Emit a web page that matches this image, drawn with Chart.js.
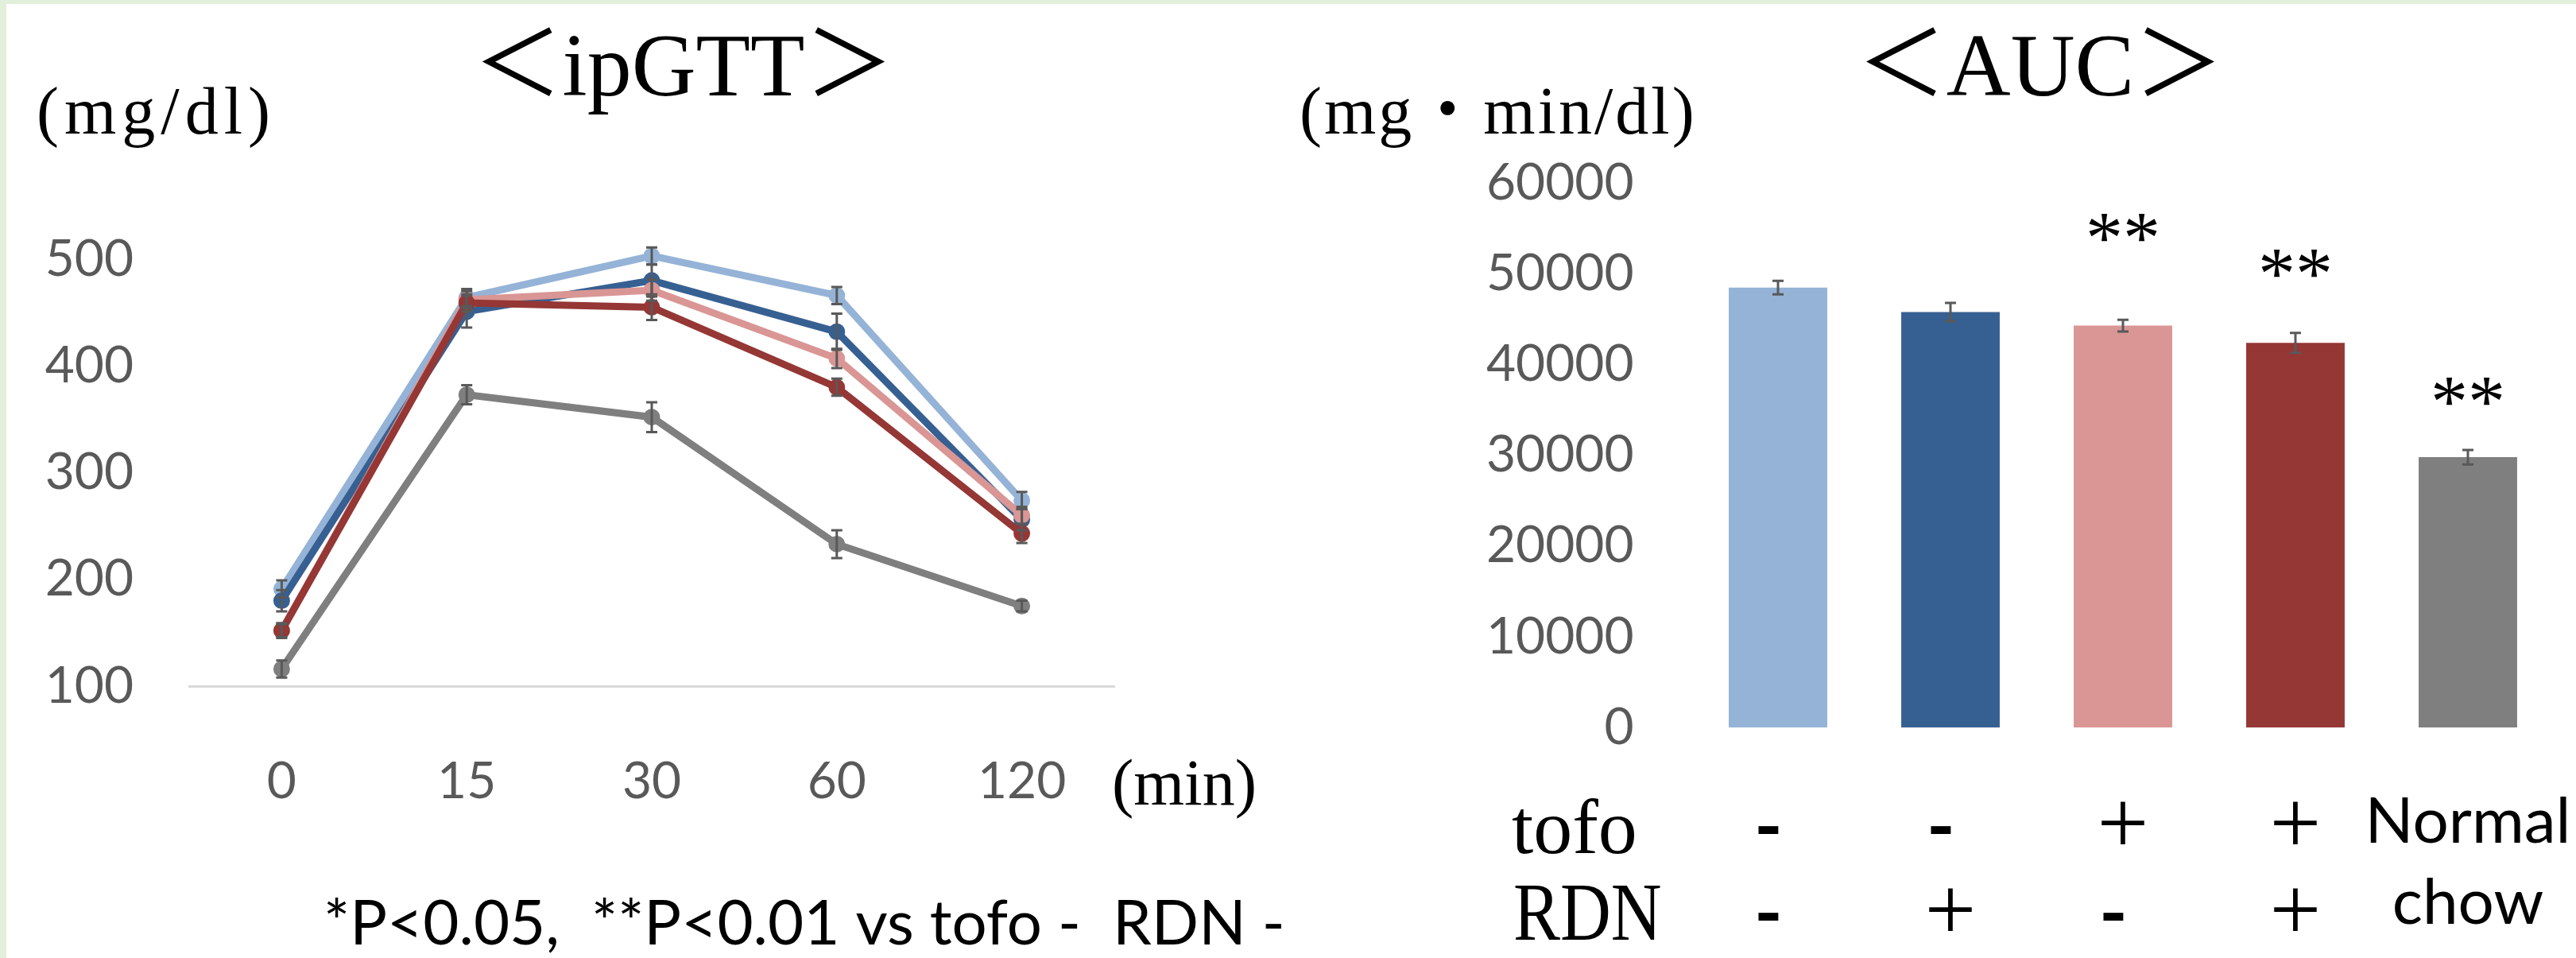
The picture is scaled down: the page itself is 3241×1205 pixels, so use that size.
<!DOCTYPE html>
<html>
<head>
<meta charset="utf-8">
<script src="https://cdn.jsdelivr.net/npm/chart.js@4.4.1/dist/chart.umd.min.js"></script>
<style>
  html, body { margin: 0; padding: 0; }
  body { width: 3241px; height: 1205px; background: #e2efda; position: relative; overflow: hidden; }
  #panel { position: absolute; left: 8px; top: 5px; right: 0; bottom: 0; background: #fff; }
  .box { position: absolute; top: 0; height: 1205px; }
  #lineBox { left: 0; width: 1700px; }
  #barBox { left: 1620px; width: 1621px; }
</style>
</head>
<body>
<div id="panel"></div>
<div class="box" id="lineBox"><canvas id="gttChart"></canvas></div>
<div class="box" id="barBox"><canvas id="aucChart"></canvas></div>
<script>
// ipGTT, blood glucose (mg/dl) at each time point
const timeLabels = ["0", "15", "30", "60", "120"];
const gttLightBlue = [191, 464, 503, 466, 274];
const gttDarkBlue = [180, 451, 480, 432, 256];
const gttPink = [152, 462, 471, 407, 260];
const gttDarkRed = [152, 459, 455, 380, 243];
const gttGray = [116, 373, 352, 233, 175];
const errLightBlue = [8, 8, 8, 8, 8];
const errDarkBlue = [10, 15, 15, 17, 10];
const errPink = [6, 8, 10, 9, 8];
const errDarkRed = [7, 8, 12, 8, 9];
const errGray = [8, 9, 14, 13, 5];

// AUC (mg·min/dl)
const groupNames = ["tofo- RDN-", "tofo- RDN+", "tofo+ RDN-", "tofo+ RDN+", "Normal chow"];
const aucValues = [48500, 45800, 44300, 42400, 29800];
const aucErrors = [750, 1000, 650, 1100, 800];
const aucSignif = ["", "", "**", "**", "**"];
const aucSignifAt = [null, null, 55200, 51300, 37200];
const tofoRow = ["-", "-", "+", "+"];
const rdnRow = ["-", "+", "-", "+"];

const colors = ["#95b3d7", "#376092", "#d99694", "#953735", "#7f7f7f"];
const tickGray = "#595959";
const serif = '"Liberation Serif", "Noto Sans CJK JP"';

const errorBars = {
  id: "errorBars",
  afterDatasetsDraw(chart) {
    const ctx = chart.ctx;
    const y = chart.scales.y;
    ctx.save();
    ctx.strokeStyle = tickGray;
    ctx.lineWidth = 3;
    chart.data.datasets.forEach((ds, i) => {
      const meta = chart.getDatasetMeta(i);
      (ds.errors || []).forEach((e, j) => {
        const el = meta.data[j];
        const top = y.getPixelForValue(ds.data[j] + e);
        const bot = y.getPixelForValue(ds.data[j] - e);
        ctx.beginPath();
        ctx.moveTo(el.x, top); ctx.lineTo(el.x, bot);
        ctx.moveTo(el.x - 7, top); ctx.lineTo(el.x + 7, top);
        ctx.moveTo(el.x - 7, bot); ctx.lineTo(el.x + 7, bot);
        ctx.stroke();
      });
    });
    ctx.restore();
  }
};

const gttText = {
  id: "gttText",
  afterDraw(chart) {
    const ctx = chart.ctx;
    ctx.save();
    ctx.fillStyle = "#000";
    ctx.textBaseline = "alphabetic";
    ctx.textAlign = "center";
    ctx.font = "112px " + serif;
    ctx.fillText("＜ipGTT＞", 860, 120);
    ctx.textAlign = "left";
    ctx.font = "84px " + serif;
    ctx.letterSpacing = "7px";
    ctx.fillText("(mg/dl)", 46, 168);
    ctx.letterSpacing = "0px";
    ctx.font = "82px " + serif;
    ctx.fillText("(min)", 1399, 1012);
    ctx.font = "78px Lato";
    ctx.fillText("*P<0.05,  **P<0.01 vs tofo -  RDN -", 407, 1188);
    ctx.restore();
  }
};

const aucText = {
  id: "aucText",
  afterDraw(chart) {
    const ctx = chart.ctx;
    const x = chart.scales.x;
    const y = chart.scales.y;
    ctx.save();
    ctx.fillStyle = "#000";
    ctx.textBaseline = "alphabetic";
    ctx.textAlign = "center";
    ctx.font = "112px " + serif;
    ctx.fillText("＜AUC＞", 947, 120);
    ctx.textAlign = "left";
    ctx.font = "84px " + serif;
    ctx.letterSpacing = "3px";
    ctx.fillText("(mg・min/dl)", 15, 168);
    ctx.letterSpacing = "0px";

    // significance marks
    ctx.textAlign = "center";
    ctx.font = "94px " + serif;
    aucSignif.forEach((s, i) => {
      if (s) ctx.fillText(s, x.getPixelForValue(i), y.getPixelForValue(aucSignifAt[i]) + 45);
    });

    // treatment table under the bars
    ctx.textAlign = "left";
    ctx.font = "98px " + serif;
    ctx.fillText("tofo", 282, 1073);
    ctx.save();
    ctx.translate(284, 1182);
    ctx.scale(0.85, 1);
    ctx.font = "104px " + serif;
    ctx.fillText("RDN", 0, 0);
    ctx.restore();

    ctx.textAlign = "center";
    const sign = (s, cx, base) => {
      if (s === "+") {
        ctx.font = "115px " + serif;
        ctx.fillText("+", cx, base);
      } else {
        ctx.font = "700 96px Lato";
        ctx.fillText("-", cx - 12, base);
      }
    };
    tofoRow.forEach((s, i) => sign(s, x.getPixelForValue(i), 1073));
    rdnRow.forEach((s, i) => sign(s, x.getPixelForValue(i), 1182));
    ctx.font = "80px Lato";
    ctx.fillText("Normal", x.getPixelForValue(4), 1060);
    ctx.fillText("chow", x.getPixelForValue(4), 1162);
    ctx.restore();
  }
};

function lineSet(label, data, errors, color, order) {
  return {
    label: label,
    data: data,
    errors: errors,
    borderColor: color,
    backgroundColor: color,
    pointBackgroundColor: color,
    pointBorderColor: color,
    borderWidth: 9,
    pointRadius: 6,
    tension: 0,
    clip: false,
    order: order
  };
}

new Chart(document.getElementById("gttChart"), {
  type: "line",
  data: {
    labels: timeLabels,
    datasets: [
      lineSet(groupNames[0], gttLightBlue, errLightBlue, colors[0], 3),
      lineSet(groupNames[1], gttDarkBlue, errDarkBlue, colors[1], 2),
      lineSet(groupNames[2], gttPink, errPink, colors[2], 1),
      lineSet(groupNames[3], gttDarkRed, errDarkRed, colors[3], 0),
      lineSet(groupNames[4], gttGray, errGray, colors[4], 4)
    ]
  },
  options: {
    responsive: true,
    maintainAspectRatio: false,
    animation: false,
    devicePixelRatio: 1,
    layout: { padding: { left: 0, top: 326, right: 298, bottom: 0 } },
    plugins: { legend: { display: false }, tooltip: { enabled: false } },
    scales: {
      x: {
        offset: true,
        grid: { display: false, drawTicks: false },
        border: { display: true, color: "#d9d9d9", width: 3 },
        ticks: { color: tickGray, font: { family: "Lato", size: 64 }, padding: 82, maxRotation: 0 },
        afterFit: (s) => { s.height = 342; }
      },
      y: {
        min: 100,
        max: 500,
        grid: { display: false, drawTicks: false },
        border: { display: false },
        ticks: { stepSize: 100, color: tickGray, font: { family: "Lato", size: 64 }, padding: 70 },
        afterFit: (s) => { s.width = 238; }
      }
    }
  },
  plugins: [errorBars, gttText]
});

new Chart(document.getElementById("aucChart"), {
  type: "bar",
  data: {
    labels: groupNames,
    datasets: [{
      label: "AUC",
      data: aucValues,
      errors: aucErrors,
      backgroundColor: colors,
      barPercentage: 0.571,
      categoryPercentage: 1
    }]
  },
  options: {
    responsive: true,
    maintainAspectRatio: false,
    animation: false,
    devicePixelRatio: 1,
    layout: { padding: { left: 0, top: 230.5, right: 27.5, bottom: 0 } },
    plugins: { legend: { display: false }, tooltip: { enabled: false } },
    scales: {
      x: {
        grid: { display: false, drawTicks: false },
        border: { display: false },
        ticks: { display: false },
        afterFit: (s) => { s.height = 290; }
      },
      y: {
        min: 0,
        max: 60000,
        grid: { display: false, drawTicks: false },
        border: { display: false },
        ticks: {
          stepSize: 10000,
          color: tickGray,
          font: { family: "Lato", size: 64 },
          padding: 73,
          callback: (v) => String(v)
        },
        afterFit: (s) => { s.width = 508.5; }
      }
    }
  },
  plugins: [errorBars, aucText]
});
</script>
</body>
</html>
